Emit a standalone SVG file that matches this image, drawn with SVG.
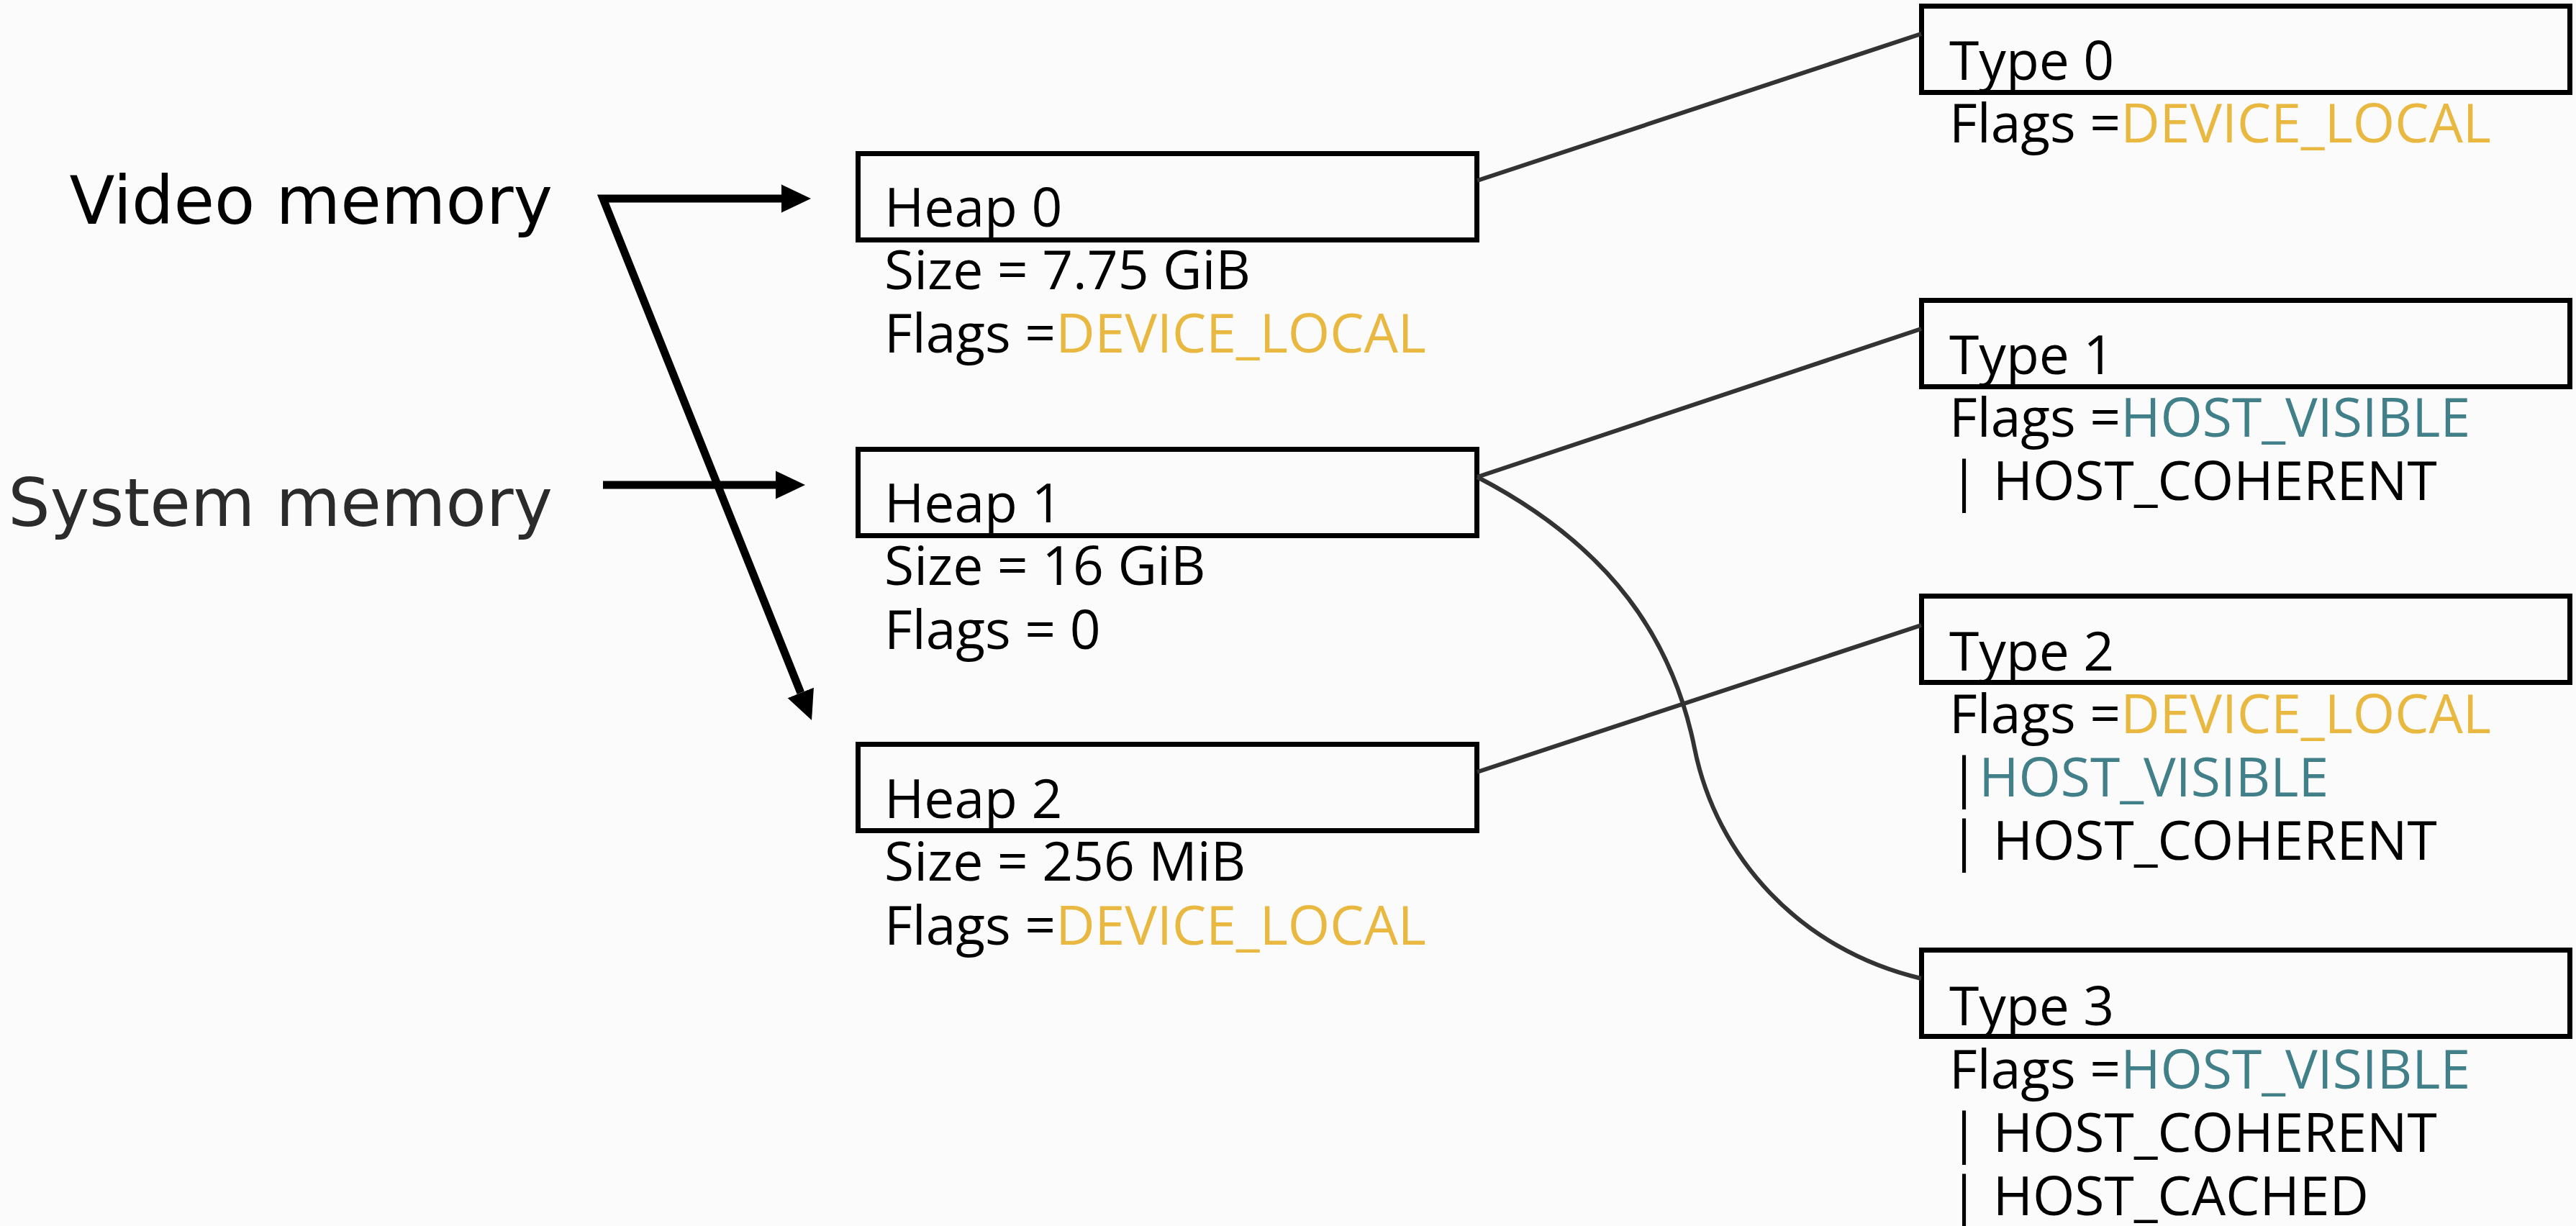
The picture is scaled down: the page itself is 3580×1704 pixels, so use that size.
<svg xmlns="http://www.w3.org/2000/svg" width="3580" height="1704" viewBox="0 0 3580 1704">
<defs>
<style>
.lbl{font-family:"DejaVu Sans","Verdana",sans-serif;font-size:92px}
.t{font-family:"Open Sans","Liberation Sans",sans-serif;font-size:75px;fill:#000}
.box{fill:none;stroke:#000;stroke-width:7}
.conn{fill:none;stroke:#333;stroke-width:6}
.arrow{fill:none;stroke:#000;stroke-width:11;stroke-linejoin:miter}
.dl{fill:#E9B840}
.hv{fill:#417F89}
</style>
<marker id="ah" viewBox="0 -20 42 40" refX="0" refY="0" markerWidth="42" markerHeight="40" markerUnits="userSpaceOnUse" orient="auto-start-reverse">
<path d="M0,-19.5 L41,0 L0,19.5 z" fill="#000"/>
</marker>
</defs>
<rect width="3580" height="1704" fill="#FBFBFB"/>

<g id="video-memory"><text class="lbl" x="768" y="311" text-anchor="end" fill="#000">Video memory</text></g>
<g id="system-memory"><text class="lbl" x="768" y="731" text-anchor="end" fill="#2b2b2b">System memory</text></g>

<g id="heap0">
<rect class="box" x="1192.5" y="213.5" width="860" height="120"/>
<text class="t" x="1229" y="315">Heap 0</text>
<text class="t" x="1229" y="402">Size = 7.75 GiB</text>
<text class="t" x="1229" y="490">Flags =<tspan class="dl">DEVICE_LOCAL</tspan></text>
</g>
<g id="heap1">
<rect class="box" x="1192.5" y="624.5" width="860" height="120"/>
<text class="t" x="1229" y="726">Heap 1</text>
<text class="t" x="1229" y="813">Size = 16 GiB</text>
<text class="t" x="1229" y="902">Flags = 0</text>
</g>
<g id="heap2">
<rect class="box" x="1192.5" y="1034.5" width="860" height="120"/>
<text class="t" x="1229" y="1137">Heap 2</text>
<text class="t" x="1229" y="1224">Size = 256 MiB</text>
<text class="t" x="1229" y="1313">Flags =<tspan class="dl">DEVICE_LOCAL</tspan></text>
</g>

<g id="type0">
<rect class="box" x="2670.5" y="8.5" width="901" height="120"/>
<text class="t" x="2709" y="111">Type 0</text>
<text class="t" x="2709" y="198">Flags =<tspan class="dl">DEVICE_LOCAL</tspan></text>
</g>
<g id="type1">
<rect class="box" x="2670.5" y="417.5" width="901" height="120"/>
<text class="t" x="2709" y="520">Type 1</text>
<text class="t" x="2709" y="607">Flags =<tspan class="hv">HOST_VISIBLE</tspan></text>
<text class="t" x="2709" y="695">| HOST_COHERENT</text>
</g>
<g id="type2">
<rect class="box" x="2670.5" y="828.5" width="901" height="120"/>
<text class="t" x="2709" y="932">Type 2</text>
<text class="t" x="2709" y="1019">Flags =<tspan class="dl">DEVICE_LOCAL</tspan></text>
<text class="t" x="2709" y="1107">|<tspan class="hv">HOST_VISIBLE</tspan></text>
<text class="t" x="2709" y="1195">| HOST_COHERENT</text>
</g>
<g id="type3">
<rect class="box" x="2670.5" y="1320.5" width="901" height="120"/>
<text class="t" x="2709" y="1425">Type 3</text>
<text class="t" x="2709" y="1513">Flags =<tspan class="hv">HOST_VISIBLE</tspan></text>
<text class="t" x="2709" y="1601">| HOST_COHERENT</text>
<text class="t" x="2709" y="1689">| HOST_CACHED</text>
</g>

<g id="connectors">
<path class="arrow" d="M1086,276 L838,276 L1112.8,962.9" marker-start="url(#ah)" marker-end="url(#ah)"/>
<line class="arrow" x1="838" y1="674" x2="1078" y2="674" marker-end="url(#ah)"/>
<line class="conn" x1="2053" y1="251" x2="2670" y2="47"/>
<line class="conn" x1="2053" y1="663" x2="2670" y2="457"/>
<line class="conn" x1="2053" y1="1073" x2="2670" y2="869"/>
<path class="conn" d="M2053,663 C2240,760 2325,890 2355,1040 C2385,1190 2500,1320 2670,1360"/>
</g>
</svg>
